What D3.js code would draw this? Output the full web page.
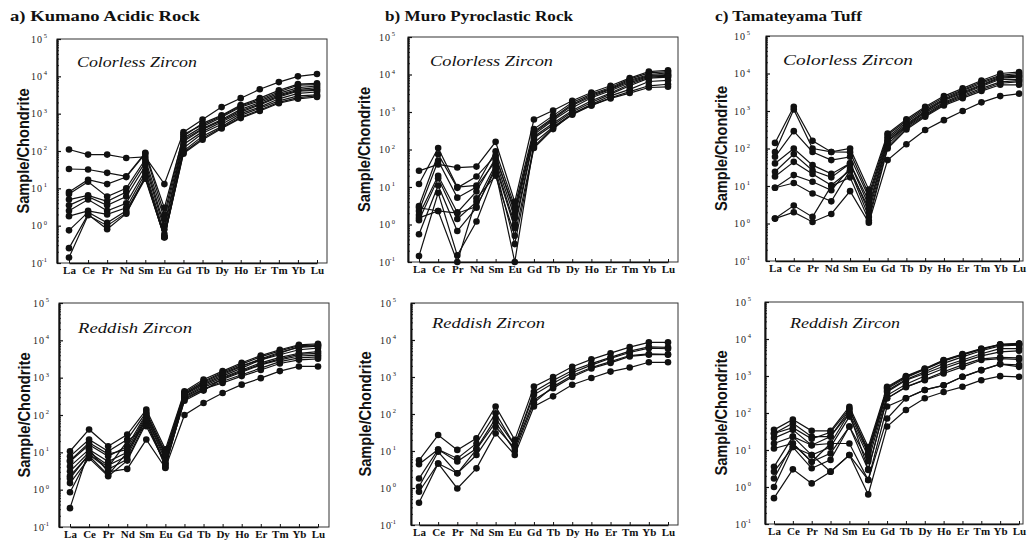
<!DOCTYPE html>
<html>
<head>
<meta charset="utf-8">
<script src="https://cdn.jsdelivr.net/npm/d3@7"></script>
<style>
  body { margin: 0; background: #fff; }
  svg { display: block; }
</style>
</head>
<body>
<svg id="chart" width="1033" height="547"></svg>
<script>
// REE, chondrite normalised
const elements = ["La", "Ce", "Pr", "Nd", "Sm", "Eu", "Gd", "Tb", "Dy", "Ho", "Er", "Tm", "Yb", "Lu"]
const decades = [-1, 0, 1, 2, 3, 4, 5]
const titles = ["a) Kumano Acidic Rock", "b) Muro Pyroclastic Rock", "c) Tamateyama Tuff"]
const zirconTypes = ["Colorless Zircon", "Reddish Zircon"]

const kumanoColorless = [
  [110, 80, 80, 65, 70, 13, 320, 700, 1500, 2600, 4500, 7000, 10000, 11500],
  [33, 32, 26, 21, 90, 3, 250, 550, 900, 1700, 2600, 4200, 6200, 6500],
  [8, 17, 13, 20, 85, 2, 280, 500, 850, 1600, 2400, 3800, 5800, 6000],
  [7, 15, 6, 10, 60, 1.5, 220, 450, 800, 1500, 2200, 3500, 5000, 5500],
  [5, 6.5, 4.5, 8, 50, 1, 200, 400, 700, 1300, 2000, 3200, 4500, 5000],
  [3.5, 6, 3.5, 6, 40, 0.8, 180, 380, 650, 1200, 1800, 3000, 4200, 4500],
  [2.5, 5, 2.5, 4, 30, 0.6, 150, 330, 600, 1100, 1700, 2800, 4000, 4200],
  [1.8, 2.5, 2, 3, 25, 0.5, 120, 300, 520, 1000, 1500, 2500, 3500, 3800],
  [0.75, 2.3, 1.2, 2.5, 20, 0.5, 100, 250, 450, 900, 1400, 2200, 3000, 3200],
  [0.25, 2, 0.8, 2.1, 20, 0.48, 90, 220, 420, 800, 1250, 2000, 2700, 3000],
  [0.14, 1.9, 1, 2.2, 18, 0.5, 85, 200, 400, 760, 1180, 1900, 2500, 2800]
]
const muroColorless = [
  [27, 40, 33, 35, 160, 4, 630, 1100, 2000, 3300, 5000, 8000, 12000, 13000],
  [12, 110, 10, 11, 90, 3, 350, 800, 1800, 3000, 4500, 7500, 11000, 12000],
  [3.1, 75, 9.5, 19, 70, 2, 300, 700, 1600, 2800, 4200, 7000, 10000, 11000],
  [2.3, 50, 5.2, 10, 50, 1.5, 280, 650, 1500, 2600, 4000, 6500, 9500, 10000],
  [1.8, 20, 2.1, 7.6, 60, 2.5, 250, 600, 1300, 2400, 3700, 6000, 9000, 9500],
  [1.3, 17, 1.4, 4, 40, 1, 220, 500, 1100, 2000, 3200, 5500, 8500, 9000],
  [0.55, 11, 0.67, 2.8, 35, 0.8, 200, 450, 1000, 1800, 3000, 5000, 8000, 8500],
  [0.145, 7, 0.15, 1.2, 25, 0.1, 150, 400, 900, 1600, 2700, 4000, 6500, 7000],
  [2.8, 2.3, 0.1, 5, 20, 0.5, 120, 380, 850, 1500, 2400, 3500, 5000, 5500],
  [1.5, 2.3, 2, 3, 30, 0.3, 110, 350, 900, 1500, 2300, 3200, 4500, 4700]
]
const tamaColorless = [
  [141, 1300, 160, 81, 100, 8, 250, 600, 1300, 2500, 4000, 6500, 10000, 11000],
  [81, 1100, 100, 81, 80, 6, 230, 550, 1200, 2300, 3700, 6000, 9000, 10000],
  [60, 290, 81, 49, 60, 5, 200, 500, 1100, 2100, 3500, 5500, 8500, 9000],
  [40, 100, 36, 21, 40, 4, 180, 450, 1000, 2000, 3200, 5000, 8000, 8500],
  [24, 71, 26, 17, 40, 3, 160, 420, 950, 1900, 3000, 4800, 7500, 8000],
  [18, 44, 21, 10.5, 26, 2.5, 150, 400, 900, 1700, 2800, 4500, 7000, 7000],
  [9, 19.5, 13, 7.7, 30, 2, 130, 380, 800, 1600, 2600, 4000, 6000, 6500],
  [9, 12, 6.3, 3.9, 26, 1.5, 110, 350, 750, 1500, 2400, 3700, 5500, 6000],
  [1.35, 3, 1.5, 10, 17, 1.2, 100, 320, 700, 1400, 2200, 3400, 5000, 5000],
  [1.35, 2, 1.1, 1.8, 7.3, 1.05, 49, 130, 310, 570, 1000, 1700, 2500, 2900]
]
const kumanoReddish = [
  [10.7, 41, 14.5, 30, 140, 12, 430, 890, 1500, 2500, 3900, 5600, 7600, 8100],
  [7.8, 22, 10.7, 22, 120, 10, 400, 800, 1400, 2300, 3600, 5200, 7200, 7600],
  [5.7, 16, 7.8, 14.5, 110, 8, 380, 700, 1200, 2000, 3200, 4800, 6500, 7000],
  [4.2, 12, 5.7, 10, 90, 7, 350, 650, 1100, 1800, 3000, 4100, 5600, 6200],
  [3.1, 10, 4.5, 8, 83, 6, 320, 600, 1000, 1600, 2500, 3500, 4500, 5000],
  [2.3, 8.7, 3.5, 6.5, 70, 5, 300, 550, 900, 1400, 2200, 3000, 3800, 4000],
  [1.5, 7, 2.3, 6, 61, 4.5, 260, 480, 800, 1200, 1800, 2700, 3400, 3600],
  [0.85, 8, 2.5, 10, 75, 4, 280, 500, 720, 1100, 1600, 2400, 3000, 3200],
  [0.32, 12, 3, 3.6, 22, 3.8, 100, 210, 390, 650, 970, 1500, 2000, 2000],
  [6, 18, 9, 12, 100, 9, 360, 750, 1300, 2100, 3000, 4500, 6800, 7200],
  [2, 9, 4, 20, 50, 5, 240, 450, 950, 1500, 2300, 3200, 4200, 4500]
]
const muroReddish = [
  [5.6, 27, 10.7, 22, 160, 20, 550, 1000, 1900, 3000, 4400, 6400, 8600, 8600],
  [4.4, 11, 6.3, 16, 105, 14, 400, 800, 1500, 2300, 3400, 5000, 6500, 6300],
  [1.8, 11, 5.2, 11.7, 76, 14, 330, 680, 1300, 2100, 3200, 4600, 6000, 5800],
  [1.08, 9.5, 2.5, 7.8, 45, 12, 240, 500, 1000, 1700, 2400, 3600, 4000, 4000],
  [0.79, 4.6, 2.5, 11, 60, 10, 200, 550, 1100, 1800, 2600, 3800, 4200, 4100],
  [0.4, 4.6, 0.97, 3.4, 30, 7.8, 160, 300, 620, 940, 1400, 1800, 2500, 2500]
]
const tamaReddish = [
  [35, 67, 33, 33, 148, 12, 510, 990, 1600, 2700, 3900, 5500, 7200, 7600],
  [28, 53, 23, 23, 120, 10, 450, 900, 1500, 2500, 3700, 5200, 7000, 7200],
  [21, 35, 13.5, 15, 100, 8, 400, 800, 1300, 2200, 3300, 4800, 6500, 6800],
  [15, 23, 7.3, 12, 80, 6.6, 370, 770, 1170, 1830, 2700, 4000, 5500, 5500],
  [11, 15, 4.8, 8.1, 43, 5, 300, 600, 1000, 1600, 2400, 3500, 4500, 4800],
  [3.5, 23, 13.5, 23, 100, 3, 250, 510, 770, 1170, 1770, 2700, 2950, 2800],
  [2.6, 12, 3.2, 5.4, 43, 2.9, 250, 500, 800, 1300, 2000, 2900, 3200, 3100],
  [1.7, 15, 4.8, 15, 15, 1.55, 150, 250, 420, 560, 950, 1440, 2100, 1770],
  [1.0, 12, 7.3, 2.6, 7.3, 1.55, 71, 250, 420, 560, 950, 1440, 2100, 2000],
  [0.5, 3.0, 1.25, 2.6, 7.3, 0.63, 43, 120, 250, 370, 510, 770, 990, 950],
  [28, 40, 20, 30, 130, 9, 480, 950, 1550, 2600, 3800, 5300, 7100, 7400]
]

// panel boxes
const panels = [
  { data: kumanoColorless, row: 0, left: 57, right: 327, top: 39, bottom: 263, first: 69, last: 317, tickEnd: 47, ylabX: 23, labX: 77, labY: 67, labW: 120 },
  { data: muroColorless, row: 0, left: 408, right: 678, top: 37, bottom: 262, first: 419, last: 668, tickEnd: 395, ylabX: 364, labX: 430, labY: 66, labW: 123 },
  { data: tamaColorless, row: 0, left: 766, right: 1023, top: 36, bottom: 261, first: 775, last: 1019, tickEnd: 750, ylabX: 721, labX: 783, labY: 65, labW: 130 },
  { data: kumanoReddish, row: 1, left: 59, right: 329, top: 303, bottom: 527, first: 70, last: 318, tickEnd: 49, ylabX: 24, labX: 78, labY: 333, labW: 114 },
  { data: muroReddish, row: 1, left: 411, right: 678, top: 303, bottom: 525, first: 419, last: 668, tickEnd: 396, ylabX: 365, labX: 432, labY: 328, labW: 113 },
  { data: tamaReddish, row: 1, left: 765, right: 1023, top: 302, bottom: 524, first: 774, last: 1019, tickEnd: 751, ylabX: 721, labX: 790, labY: 328, labW: 110 }
]
const titlePos = [
  { x: 10, w: 190 },
  { x: 385, w: 188 },
  { x: 715, w: 147 }
]

const svg = d3.select("#chart")
const serif = "'Liberation Serif', 'Times New Roman', serif"

// titles
svg.selectAll(".title")
  .data(titles)
  .join("text")
  .attr("class", "title")
  .attr("x", (d, i) => titlePos[i].x)
  .attr("y", 21)
  .attr("textLength", (d, i) => titlePos[i].w)
  .attr("lengthAdjust", "spacingAndGlyphs")
  .attr("font-family", serif)
  .attr("font-weight", "bold")
  .attr("font-size", 15.5)
  .attr("fill", "#111")
  .text(d => d)

panels.forEach(p => drawPanel(p))

function drawPanel(p) {
  const g = svg.append("g")

  const x = d3.scalePoint()
    .domain(elements)
    .range([p.first, p.last])

  const y = d3.scaleLog()
    .domain([0.1, 1e5])
    .range([p.bottom, p.top])
    .clamp(true)

  // frame
  g.append("rect")
    .attr("x", p.left)
    .attr("y", p.top)
    .attr("width", p.right - p.left)
    .attr("height", p.bottom - p.top)
    .attr("fill", "none")
    .attr("stroke", "#333")
    .attr("stroke-width", 1)

  // minor log ticks
  const minor = []
  decades.slice(0, -1).forEach(e => {
    for (let m = 2; m < 10; m++) minor.push(m * Math.pow(10, e))
  })
  g.append("g")
    .attr("transform", `translate(${p.left},0)`)
    .call(d3.axisLeft(y).tickValues(minor).tickSize(-2).tickFormat(""))
    .call(a => a.select(".domain").remove())
    .selectAll("line").attr("stroke", "#333")

  // major ticks + labels
  const yAxis = g.append("g")
    .attr("transform", `translate(${p.left},0)`)
    .call(d3.axisLeft(y)
      .tickValues(decades.map(e => Math.pow(10, e)))
      .tickSizeInner(-4)
      .tickSizeOuter(0)
      .tickFormat(""))
  yAxis.select(".domain").attr("stroke", "#111").attr("stroke-width", 2)
  yAxis.selectAll("line").attr("stroke", "#111").attr("stroke-width", 1.2)
  yAxis.selectAll(".tick text").remove()

  g.selectAll(".ylab")
    .data(decades)
    .join("text")
    .attr("class", "ylab")
    .attr("x", p.tickEnd - 4)
    .attr("y", d => y(Math.pow(10, d)) + 3.5)
    .attr("text-anchor", "end")
    .attr("font-family", serif)
    .attr("font-size", 10)
    .attr("letter-spacing", 1)
    .attr("fill", "#222")
    .text("10")
    .append("tspan")
    .attr("x", p.tickEnd)
    .attr("dy", -4.5)
    .attr("font-size", 6.5)
    .attr("letter-spacing", 0)
    .attr("text-anchor", "end")
    .text(d => d)

  // bottom axis
  const xAxis = g.append("g")
    .attr("transform", `translate(0,${p.bottom})`)
    .call(d3.axisBottom(x).tickSizeInner(-3).tickSizeOuter(0).tickPadding(3))
  xAxis.select(".domain").attr("stroke", "#111").attr("stroke-width", 1.5)
  xAxis.selectAll("line").attr("stroke", "#111")
  xAxis.selectAll("text")
    .attr("font-family", serif)
    .attr("font-weight", "bold")
    .attr("font-size", 11)
    .attr("fill", "#111")

  // y title
  g.append("text")
    .attr("transform", `translate(${p.ylabX + 6},${(p.top + p.bottom) / 2}) rotate(-90)`)
    .attr("text-anchor", "middle")
    .attr("textLength", 125)
    .attr("lengthAdjust", "spacingAndGlyphs")
    .attr("font-family", "'Liberation Sans', Arial, sans-serif")
    .attr("font-weight", "bold")
    .attr("font-size", 16)
    .attr("fill", "#111")
    .text("Sample/Chondrite")

  // zircon label
  g.append("text")
    .attr("x", p.labX)
    .attr("y", p.labY)
    .attr("textLength", p.labW)
    .attr("lengthAdjust", "spacingAndGlyphs")
    .attr("font-family", serif)
    .attr("font-style", "italic")
    .attr("font-size", 14)
    .attr("fill", "#111")
    .text(zirconTypes[p.row])

  // series
  const line = d3.line()
    .x((d, i) => x(elements[i]))
    .y(d => y(d))

  const series = g.append("g")
  series.selectAll("path")
    .data(p.data)
    .join("path")
    .attr("d", line)
    .attr("fill", "none")
    .attr("stroke", "#111")
    .attr("stroke-width", 1.2)

  series.selectAll("g")
    .data(p.data)
    .join("g")
    .selectAll("circle")
    .data(d => d)
    .join("circle")
    .attr("cx", (d, i) => x(elements[i]))
    .attr("cy", d => y(d))
    .attr("r", 3.3)
    .attr("fill", "#111")
}
</script>
</body>
</html>
